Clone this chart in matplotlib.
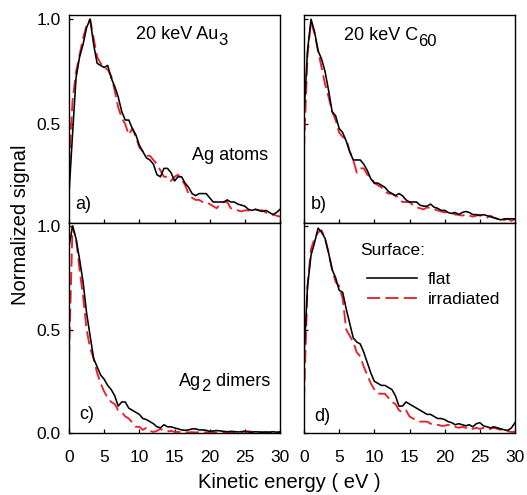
import numpy as np
import matplotlib
matplotlib.use("Agg")
import matplotlib.pyplot as plt
from matplotlib.lines import Line2D

plt.rcParams['font.family'] = ['Liberation Sans', 'DejaVu Sans']

# Kinetic energy grid (eV)
energy = np.arange(0, 30.01, 0.5)

# Panel a) 20 keV Au3, Ag atoms
a_flat = [0.17, 0.45, 0.72, 0.82, 0.88, 0.96, 1.0, 0.88, 0.79, 0.78,
          0.77, 0.78, 0.72, 0.68, 0.63, 0.56, 0.52, 0.52, 0.48, 0.45,
          0.40, 0.37, 0.34, 0.33, 0.31, 0.26, 0.25, 0.29, 0.29, 0.27,
          0.23, 0.25, 0.25, 0.22, 0.20, 0.17, 0.16, 0.17, 0.17, 0.17,
          0.15, 0.13, 0.13, 0.13, 0.13, 0.14, 0.13, 0.13, 0.12, 0.115,
          0.11, 0.095, 0.09, 0.095, 0.09, 0.085, 0.09, 0.08, 0.07, 0.08, 0.095]
a_irr = [0.30, 0.61, 0.75, 0.83, 0.91, 0.97, 1.0, 0.91, 0.82, 0.79,
         0.77, 0.76, 0.73, 0.66, 0.58, 0.53, 0.50, 0.45, 0.48, 0.44,
         0.39, 0.37, 0.35, 0.35, 0.33, 0.31, 0.28, 0.25, 0.25, 0.23,
         0.25, 0.26, 0.24, 0.21, 0.17, 0.15, 0.14, 0.14, 0.13, 0.13,
         0.12, 0.11, 0.10, 0.12, 0.13, 0.13, 0.10, 0.095, 0.09, 0.085,
         0.09, 0.09, 0.09, 0.095, 0.09, 0.09, 0.08, 0.07, 0.07, 0.065, 0.06]

# Panel b) 20 keV C60, Ag atoms
b_flat = [0.55, 0.85, 1.0, 0.94, 0.85, 0.81, 0.75, 0.66, 0.56, 0.54,
          0.48, 0.46, 0.42, 0.37, 0.33, 0.33, 0.33, 0.31, 0.28, 0.24,
          0.22, 0.22, 0.21, 0.20, 0.18, 0.17, 0.16, 0.17, 0.16, 0.14,
          0.13, 0.13, 0.13, 0.115, 0.11, 0.11, 0.12, 0.105, 0.10, 0.09,
          0.09, 0.08, 0.075, 0.08, 0.07, 0.08, 0.085, 0.08, 0.07, 0.07,
          0.065, 0.07, 0.065, 0.06, 0.055, 0.05, 0.045, 0.05, 0.05, 0.05, 0.05]
b_irr = [0.38, 0.83, 0.99, 0.93, 0.85, 0.77, 0.69, 0.63, 0.56, 0.52,
         0.46, 0.44, 0.43, 0.37, 0.33, 0.27, 0.29, 0.29, 0.26, 0.25,
         0.22, 0.21, 0.20, 0.18, 0.17, 0.17, 0.16, 0.15, 0.13, 0.13,
         0.13, 0.115, 0.105, 0.10, 0.095, 0.105, 0.10, 0.095, 0.09, 0.085,
         0.08, 0.085, 0.08, 0.07, 0.07, 0.065, 0.07, 0.065, 0.06, 0.065,
         0.07, 0.06, 0.055, 0.065, 0.055, 0.05, 0.04, 0.045, 0.05, 0.04, 0.05]

# Panel c) 20 keV Au3, Ag2 dimers
c_flat = [0.90, 1.0, 0.94, 0.84, 0.73, 0.58, 0.47, 0.36, 0.32, 0.28,
          0.26, 0.23, 0.21, 0.18, 0.13, 0.15, 0.15, 0.12, 0.11, 0.10,
          0.09, 0.07, 0.065, 0.055, 0.045, 0.03, 0.025, 0.04, 0.03, 0.03,
          0.025, 0.02, 0.015, 0.013, 0.015, 0.02, 0.02, 0.015, 0.015, 0.013,
          0.008, 0.01, 0.012, 0.01, 0.008, 0.006, 0.008, 0.007, 0.005, 0.006,
          0.008, 0.005, 0.004, 0.006, 0.005, 0.004, 0.005, 0.004, 0.006, 0.004, 0.005]
c_irr = [0.36, 1.0, 0.94, 0.79, 0.66, 0.50, 0.41, 0.36, 0.29, 0.24,
         0.20, 0.17, 0.15, 0.14, 0.11, 0.10, 0.08, 0.07, 0.05, 0.03,
         0.03, 0.015, 0.025, 0.01, 0.005, 0.01, 0.02, 0.01, 0.008, 0.01,
         0.006, 0.005, 0.004, 0.004, 0.003, 0.004, 0.003, 0.004, 0.003, 0.003,
         0.004, 0.003, 0.003, 0.004, 0.003, 0.003, 0.004, 0.003, 0.005, 0.006,
         0.008, 0.008, 0.006, 0.005, 0.004, 0.003, 0.003, 0.003, 0.003, 0.003, 0.003]

# Panel d) 20 keV C60, Ag2 dimers
d_flat = [0.37, 0.71, 0.86, 0.92, 0.99, 0.97, 0.94, 0.87, 0.79, 0.75,
          0.69, 0.68, 0.60, 0.53, 0.46, 0.44, 0.43, 0.39, 0.34, 0.29,
          0.25, 0.24, 0.23, 0.23, 0.22, 0.21, 0.18, 0.13, 0.13, 0.15,
          0.14, 0.13, 0.12, 0.11, 0.10, 0.09, 0.09, 0.08, 0.07, 0.07,
          0.065, 0.055, 0.05, 0.04, 0.045, 0.04, 0.035, 0.04, 0.03, 0.045,
          0.05, 0.035, 0.03, 0.025, 0.03, 0.025, 0.02, 0.015, 0.013, 0.025, 0.05]
d_irr = [0.16, 0.71, 0.89, 0.94, 0.97, 0.98, 0.94, 0.87, 0.79, 0.73,
         0.71, 0.65, 0.50, 0.47, 0.44, 0.39, 0.37, 0.32, 0.28, 0.24,
         0.21, 0.19, 0.19, 0.19, 0.17, 0.15, 0.14, 0.11, 0.10, 0.11,
         0.08, 0.07, 0.065, 0.055, 0.055, 0.055, 0.045, 0.04, 0.04, 0.035,
         0.035, 0.04, 0.03, 0.03, 0.025, 0.03, 0.025, 0.03, 0.02, 0.025,
         0.02, 0.025, 0.015, 0.02, 0.025, 0.02, 0.015, 0.013, 0.008, 0.005, 0.005]

x_ticks = [0, 5, 10, 15, 20, 25, 30]
panel_labels = ['a)', 'b)', 'c)', 'd)']
titles = [('20 keV Au', '3'), ('20 keV C', '60')]
species = [('Ag', ' atoms', ''), ('Ag', '2', ' dimers')]
legend_title = 'Surface:'
legend_labels = ['flat', 'irradiated']

RED = '#e8222c'
DASH = (0, (7, 2.8))
FS = 13

fig = plt.figure(figsize=(5.27, 4.95), dpi=100)
W, H = 527, 495
def rect(x0, y0, x1, y1):
    return [x0 / W, 1 - y1 / H, (x1 - x0) / W, (y1 - y0) / H]

ax_a = fig.add_axes(rect(69, 15, 280, 223))
ax_b = fig.add_axes(rect(304, 15, 515, 223))
ax_c = fig.add_axes(rect(69, 223, 280, 433))
ax_d = fig.add_axes(rect(304, 223, 515, 433))
axes = [ax_a, ax_b, ax_c, ax_d]
data = [(a_flat, a_irr), (b_flat, b_irr), (c_flat, c_irr), (d_flat, d_irr)]

for i, (ax, (fl, ir)) in enumerate(zip(axes, data)):
    ax.plot(energy, fl, color='black', lw=1.15, zorder=3)
    ax.plot(energy, ir, color=RED, lw=1.35, linestyle=DASH, zorder=2)
    ax.set_xlim(0, 30)
    if i < 2:
        ax.set_ylim(0.03, 1.02)
        ax.set_yticks([0.5, 1.0])
    else:
        ax.set_ylim(0.0, 1.015)
        ax.set_yticks([0.0, 0.5, 1.0])
    ax.set_xticks(x_ticks)
    ax.tick_params(direction='in', length=3, width=0.9, labelsize=12.5,
                   color='black')
    ax.tick_params(axis='x', pad=12)
    ax.tick_params(axis='y', pad=6)
    for s in ax.spines.values():
        s.set_linewidth(1.0)
        s.set_color('black')
    if i < 2:
        ax.set_xticklabels([])
    if i % 2 == 1:
        ax.set_yticklabels([])
    else:
        ax.yaxis.set_major_formatter(matplotlib.ticker.FormatStrFormatter('%.1f'))

fig.canvas.draw()

def subscript_text(ax, x, y, main, sub):
    """Main text with a lowered, near full-size subscript (as in the source)."""
    t = ax.text(x, y, main, transform=ax.transAxes, fontsize=FS, ha='left',
                va='center')
    s = ax.annotate(sub, xy=(1, 0), xycoords=t, xytext=(0.3, -3.2),
                    textcoords='offset points', fontsize=FS * 0.92,
                    ha='left', va='bottom')
    return [t, s]

def place(ax, parts, cx):
    # shift the whole group so its horizontal center is at axes fraction cx
    r = fig.canvas.get_renderer()
    fig.canvas.draw()
    bbs = [p.get_window_extent(r) for p in parts]
    x0 = min(b.x0 for b in bbs)
    x1 = max(b.x1 for b in bbs)
    axbb = ax.get_window_extent(r)
    target = axbb.x0 + cx * axbb.width
    dx = target - (x0 + x1) / 2
    t = parts[0]
    px, py = t.get_position()
    t.set_position((px + dx / axbb.width, py))

# Titles
p = subscript_text(ax_a, 0.3, 0.905, *titles[0])
place(ax_a, p, 0.536)
p = subscript_text(ax_b, 0.3, 0.9, *titles[1])
place(ax_b, p, 0.41)

ax_a.text(0.763, 0.325, species[0][0] + species[0][1], transform=ax_a.transAxes,
          fontsize=FS, ha='center', va='center')
t = ax_c.text(0.3, 0.245, species[1][0], transform=ax_c.transAxes, fontsize=FS,
              ha='left', va='center')
s = ax_c.annotate(species[1][1], xy=(1, 0), xycoords=t, xytext=(0.3, -3.2),
                  textcoords='offset points', fontsize=FS * 0.92, ha='left', va='bottom')
tt = ax_c.annotate(species[1][2], xy=(1, 0), xycoords=s, xytext=(0, 3.2),
                   textcoords='offset points', fontsize=FS, ha='left', va='bottom')
place(ax_c, [t, s, tt], 0.737)

# Panel letters
ax_a.text(0.03, 0.09, panel_labels[0], transform=ax_a.transAxes, fontsize=FS, va='center', ha='left')
ax_b.text(0.03, 0.09, panel_labels[1], transform=ax_b.transAxes, fontsize=FS, va='center', ha='left')
ax_c.text(0.05, 0.09, panel_labels[2], transform=ax_c.transAxes, fontsize=FS, va='center', ha='left')
ax_d.text(0.05, 0.08, panel_labels[3], transform=ax_d.transAxes, fontsize=FS, va='center', ha='left')

# Legend
ax_d.text(0.265, 0.871, legend_title, transform=ax_d.transAxes, fontsize=12.5,
          ha='left', va='center')
handles = [Line2D([], [], color='black', lw=1.15),
           Line2D([], [], color=RED, lw=1.35, linestyle=DASH)]
ax_d.legend(handles, legend_labels, loc='upper left',
            bbox_to_anchor=(0.282, 0.783), frameon=False, fontsize=12.5,
            handlelength=2.9, handletextpad=0.6, labelspacing=0.25,
            borderpad=0.2, borderaxespad=0)

fig.text(0.038, 1 - 225 / H, 'Normalized signal', rotation=90, fontsize=14.5,
         ha='center', va='center')
fig.text(289 / W, 1 - 482 / H, 'Kinetic energy ( eV )', fontsize=14.5,
         ha='center', va='center')

fig.savefig('out.png', dpi=100)
